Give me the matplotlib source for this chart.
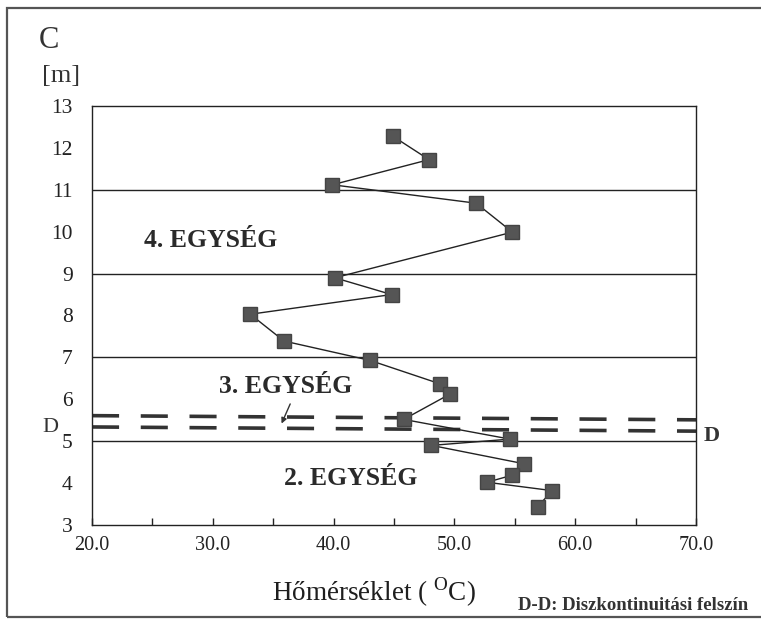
import matplotlib
matplotlib.use("Agg")
import matplotlib.pyplot as plt
from matplotlib.patches import Rectangle

# temperature (C) vs depth (m), read top to bottom
temp = [44.9, 47.9, 39.9, 51.8, 54.8, 40.1, 44.8, 33.1, 35.9, 43.0,
        48.8, 49.6, 45.8, 54.6, 48.1, 55.8, 54.8, 52.7, 58.1, 56.9]
depth = [12.28, 11.72, 11.12, 10.68, 9.99, 8.9, 8.5, 8.03, 7.39, 6.93,
         6.37, 6.12, 5.52, 5.05, 4.9, 4.46, 4.19, 4.02, 3.82, 3.44]

grid_levels = [5, 7, 9, 11]
# discontinuity surface D-D (two dashed lines, slightly tilted in the scan)
dd_x = [20, 70]
dd_upper = [5.61, 5.51]
dd_lower = [5.34, 5.24]

units = ["4. EGYSÉG", "3. EGYSÉG", "2. EGYSÉG"]
unit_pos = [(29.8, 9.8), (36.0, 6.3), (41.4, 4.12)]

serif = "Liberation Serif"
plt.rcParams["font.family"] = serif
plt.rcParams["mathtext.fontset"] = "custom"
plt.rcParams["mathtext.rm"] = serif

fig = plt.figure(figsize=(7.61, 6.21), dpi=100)
fig.patches.append(Rectangle((7 / 761, 4 / 621), 760 / 761, 609 / 621,
                             transform=fig.transFigure, fill=False,
                             edgecolor="#555555", linewidth=1.6))
ax = fig.add_axes([92 / 761, 96 / 621, 604 / 761, 419 / 621])

for g in grid_levels:
    ax.axhline(g, color="#222222", linewidth=1.0, zorder=1)

ax.plot(dd_x, dd_upper, color="#333333", linewidth=2.6, dashes=(7.5, 6), zorder=2)
ax.plot(dd_x, dd_lower, color="#333333", linewidth=2.6, dashes=(7.5, 6), zorder=2)

ax.plot(temp, depth, color="#222222", linewidth=1.0, marker="s",
        markersize=9.5, markerfacecolor="#555555", markeredgecolor="#444444",
        zorder=3)

for name, (x, y) in zip(units, unit_pos):
    ax.text(x, y, name, fontsize=18.5, fontweight="bold", color="#2a2a2a",
            ha="center", va="center")

ax.annotate("", xy=(35.6, 5.36), xytext=(36.5, 5.95),
            arrowprops=dict(arrowstyle="-|>", color="#333333", lw=1.0,
                            mutation_scale=8))

ax.set_xlim(20, 70)
ax.set_ylim(3, 13)
ax.set_xticks([20, 30, 40, 50, 60, 70])
ax.set_xticklabels(["20.0", "30.0", "40.0", "50.0", "60.0", "70.0"])
ax.set_xticks([25, 35, 45, 55, 65], minor=True)
ax.set_yticks(range(3, 14))
ax.set_yticks([3, 5, 7, 9, 11, 13], minor=True)
ax.tick_params(axis="x", which="both", direction="in", length=5, width=1.0,
               labelsize=14.5, pad=8, colors="#222222")
ax.tick_params(axis="y", which="major", length=0, labelsize=15.5, pad=14,
               colors="#222222")
ax.tick_params(axis="y", which="minor", direction="out", length=6, width=1.0)
for s in ax.spines.values():
    s.set_linewidth(1.0)
    s.set_color("#222222")

ax.set_xlabel(r"Hőmérséklet ( $^{\mathrm{O}}$C)", fontsize=19.5,
              color="#1e1e1e", labelpad=12)
ax.xaxis.set_label_coords(0.466, -0.12)

fig.text(39 / 761, 1 - 40 / 621, "C", fontsize=22, color="#333333",
         va="center", ha="left")
fig.text(42 / 761, 1 - 76 / 621, "[m]", fontsize=19, color="#333333",
         va="center", ha="left")
fig.text(42 / 761, 1 - 428 / 621, "D", fontsize=16, color="#333333",
         va="center", ha="left")
fig.text(704 / 761, 1 - 436 / 621, "D", fontsize=16, fontweight="bold",
         color="#333333", va="center", ha="left")
fig.text(748 / 761, 1 - 605 / 621, "D-D: Diszkontinuitási felszín",
         fontsize=13.5, fontweight="bold", color="#333333", va="center",
         ha="right")

fig.savefig("out.png", dpi=100)
